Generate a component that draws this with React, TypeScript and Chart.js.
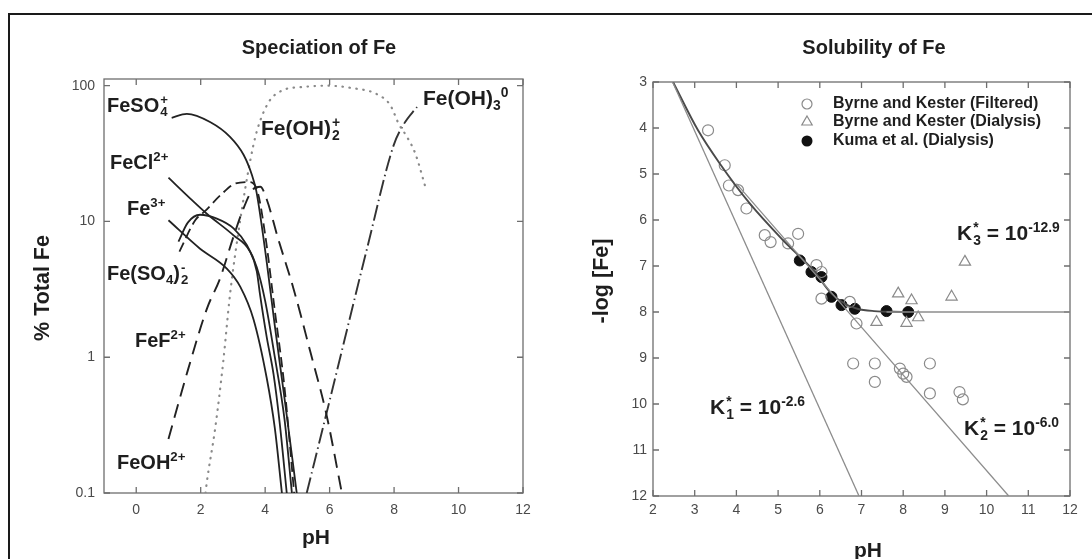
import React, { useEffect, useRef } from "react";
import { Chart, registerables } from "chart.js";
Chart.register(...registerables);

const FONT = '"Liberation Sans", Arial, Helvetica, sans-serif';

// ---------------- Left panel: Speciation of Fe  (pH, % Total Fe) ----------------
const feSO4Plus: [number, number][] = [
  [1.1, 58], [1.57, 62], [2.29, 54], [2.91, 42], [3.33, 31], [3.59, 22], [3.72, 17],
  [3.85, 11], [4.05, 5], [4.3, 1.7], [4.6, 0.5], [4.98, 0.1],
];
const feCl2Plus: [number, number][] = [
  [1.0, 21], [1.67, 14.8], [2.19, 11.4], [3.02, 7.9], [3.53, 6], [3.74, 4.3], [3.84, 2.9],
  [4.05, 1.4], [4.26, 0.75], [4.45, 0.33], [4.67, 0.1],
];
const fe3Plus: [number, number][] = [
  [1.0, 10.2], [1.98, 6.3], [2.81, 4.5], [3.23, 3.3], [3.64, 1.9], [4.05, 0.7], [4.3, 0.3], [4.52, 0.1],
];
const feF2Plus: [number, number][] = [
  [1.31, 7.1], [1.6, 9.8], [1.98, 11.2], [2.5, 10.5], [3.02, 8.9], [3.43, 6.7], [3.74, 4.6],
  [4.0, 2.6], [4.3, 1.0], [4.6, 0.35], [4.83, 0.1],
];
const feSO42Minus: [number, number][] = [
  [1.34, 6], [1.83, 10.2], [2.15, 12], [2.6, 15.5], [3.07, 19], [3.5, 19.5], [3.75, 17],
  [4.0, 8], [4.3, 2.2], [4.6, 0.6], [4.9, 0.1],
];
const feOH2Plus: [number, number][] = [
  [1.0, 0.25], [1.6, 0.8], [2.2, 2.3], [2.6, 3.8], [3.0, 7.5], [3.3, 12], [3.6, 17], [3.85, 18],
  [4.05, 14.5], [4.4, 7.5], [4.88, 3.2], [5.4, 1.1], [5.9, 0.38], [6.38, 0.1],
];
const feOH2PlusDi: [number, number][] = [
  [2.15, 0.1], [2.19, 0.12], [2.45, 0.3], [2.7, 0.93], [2.91, 2.9], [3.22, 10], [3.53, 27.5],
  [3.74, 46], [4.1, 75], [4.52, 92], [5.2, 98], [5.93, 100], [6.7, 96], [7.45, 87], [7.88, 72],
  [8.15, 52], [8.4, 42], [8.66, 31.6], [8.97, 18],
];
const feOH3Zero: [number, number][] = [
  [5.29, 0.1], [6.02, 0.5], [7.16, 6.3], [7.98, 36], [8.3, 52], [8.71, 69.7],
];
const leftXTicks = [0, 2, 4, 6, 8, 10, 12];
const leftYTicks = [0.1, 1, 10, 100];

// ---------------- Right panel: Solubility of Fe  (pH, -log [Fe]) ----------------
const byrneFiltered: [number, number][] = [
  [3.32, 4.05], [3.72, 4.81], [3.82, 5.25], [4.04, 5.35], [4.24, 5.75], [4.68, 6.33],
  [4.82, 6.48], [5.24, 6.51], [5.48, 6.3], [5.92, 6.98], [6.04, 7.13], [6.04, 7.71],
  [6.72, 7.78], [6.88, 8.25], [6.8, 9.12], [7.32, 9.12], [7.32, 9.52], [7.92, 9.23],
  [8.0, 9.34], [8.08, 9.41], [8.64, 9.12], [8.64, 9.77], [9.35, 9.74], [9.43, 9.9],
];
const byrneDialysis: [number, number][] = [
  [9.48, 6.91], [9.16, 7.67], [7.88, 7.6], [8.2, 7.75], [7.36, 8.22], [8.08, 8.24], [8.36, 8.12],
];
const kumaDialysis: [number, number][] = [
  [5.52, 6.88], [5.8, 7.13], [6.04, 7.24], [6.28, 7.67], [6.52, 7.85], [6.84, 7.93], [7.6, 7.98], [8.12, 8.0],
];
const totalCurve: [number, number][] = [
  [2.48, 3.0], [3.08, 4.05], [3.6, 4.77], [4.32, 5.64], [5.12, 6.44], [5.84, 7.09], [6.28, 7.6],
  [6.6, 7.82], [6.9, 7.93], [7.3, 7.98], [8.0, 8.0],
];
const k1Line: [number, number][] = [[2.47, 3], [6.94, 12]];
const k2Line: [number, number][] = [[4.0, 5.21], [10.53, 12]];
const k3Line: [number, number][] = [[7.6, 8], [12, 8]];
const rightXTicks = [2, 3, 4, 5, 6, 7, 8, 9, 10, 11, 12];
const rightYTicks = [3, 4, 5, 6, 7, 8, 9, 10, 11, 12];

// ---------------- helpers ----------------
const toXY = (pts: [number, number][]) => pts.map(([x, y]) => ({ x, y }));

type Part = { t: string; k?: "sub" | "sup" } | { sup: string; sub: string };

function drawRich(ctx: CanvasRenderingContext2D, x: number, y: number, parts: Part[], size: number) {
  ctx.save();
  ctx.fillStyle = "#1e1e1e";
  ctx.textBaseline = "alphabetic";
  ctx.textAlign = "left";
  const small = size * 0.66;
  let cx = x;
  for (const p of parts) {
    if ("sup" in p) {
      ctx.font = `bold ${small}px ${FONT}`;
      const w = Math.max(ctx.measureText(p.sup).width, ctx.measureText(p.sub).width);
      ctx.fillText(p.sup, cx + 1, y - size * 0.4);
      ctx.fillText(p.sub, cx + 1, y + size * 0.22);
      cx += w + 1;
    } else {
      const sz = p.k ? small : size;
      ctx.font = `bold ${sz}px ${FONT}`;
      const dy = p.k === "sub" ? size * 0.22 : p.k === "sup" ? -size * 0.4 : 0;
      ctx.fillText(p.t, cx, y + dy);
      cx += ctx.measureText(p.t).width;
    }
  }
  ctx.restore();
}

function frameTicks(xTicks: number[], yTicks: number[], len: number) {
  return {
    id: "frameTicks",
    beforeDatasetsDraw(chart: any) {
      const { ctx, chartArea: a, scales } = chart;
      ctx.save();
      ctx.strokeStyle = "#6e6e6e";
      ctx.lineWidth = 1.3;
      ctx.strokeRect(a.left, a.top, a.right - a.left, a.bottom - a.top);
      ctx.beginPath();
      for (const v of xTicks) {
        const px = scales.x.getPixelForValue(v);
        ctx.moveTo(px, a.bottom); ctx.lineTo(px, a.bottom - len);
        ctx.moveTo(px, a.top); ctx.lineTo(px, a.top + len);
      }
      for (const v of yTicks) {
        const py = scales.y.getPixelForValue(v);
        ctx.moveTo(a.left, py); ctx.lineTo(a.left + len, py);
        ctx.moveTo(a.right, py); ctx.lineTo(a.right - len, py);
      }
      ctx.stroke();
      ctx.restore();
    },
  };
}

type Txt = { x: number; y: number; parts: Part[]; size: number };
type AxisTxt = { x: number; y: number; text: string; size: number; rot?: boolean };

function textPlugin(items: Txt[], centered: AxisTxt[], extra?: (ctx: CanvasRenderingContext2D) => void) {
  return {
    id: "texts",
    afterDraw(chart: any) {
      const ctx: CanvasRenderingContext2D = chart.ctx;
      for (const it of items) drawRich(ctx, it.x, it.y, it.parts, it.size);
      for (const c of centered) {
        ctx.save();
        ctx.fillStyle = "#1e1e1e";
        ctx.font = `bold ${c.size}px ${FONT}`;
        ctx.textAlign = "center";
        ctx.textBaseline = "middle";
        ctx.translate(c.x, c.y);
        if (c.rot) ctx.rotate(-Math.PI / 2);
        ctx.fillText(c.text, 0, 0);
        ctx.restore();
      }
      if (extra) extra(ctx);
    },
  };
}

const tickFont = { family: FONT, size: 14 };
const tickColor = "#4a4a4a";

function leftConfig(): any {
  const ds = (label: string, pts: [number, number][], o: any = {}) => ({
    label, data: toXY(pts), borderColor: "#222", borderWidth: 1.8, pointRadius: 0,
    cubicInterpolationMode: "monotone", fill: false, ...o,
  });
  return {
    type: "line",
    data: {
      datasets: [
        ds("FeSO4+", feSO4Plus),
        ds("FeCl2+", feCl2Plus),
        ds("Fe3+", fe3Plus),
        ds("FeF2+", feF2Plus),
        ds("Fe(SO4)2-", feSO42Minus, { borderDash: [10, 5] }),
        ds("FeOH2+", feOH2Plus, { borderDash: [14, 8], borderWidth: 1.9 }),
        ds("Fe(OH)2+", feOH2PlusDi, { borderColor: "#8a8a8a", borderWidth: 2.2, borderDash: [0.5, 6.5], borderCapStyle: "round" }),
        ds("Fe(OH)3 0", feOH3Zero, { borderColor: "#333", borderWidth: 1.9, borderDash: [16, 4, 1.5, 4] }),
      ],
    },
    options: {
      responsive: false, animation: false, devicePixelRatio: 1,
      layout: { padding: { top: 79, right: 1092 - 523, bottom: 0, left: 0 } },
      plugins: { legend: { display: false }, tooltip: { enabled: false }, title: { display: false } },
      scales: {
        x: {
          type: "linear", min: -1, max: 12,
          afterFit: (s: any) => { s.height = 559 - 493; },
          afterBuildTicks: (s: any) => { s.ticks = leftXTicks.map((v) => ({ value: v })); },
          grid: { display: false, drawTicks: false }, border: { display: false },
          ticks: { font: tickFont, color: tickColor, padding: 9, maxRotation: 0, callback: (v: any) => String(v) },
        },
        y: {
          type: "logarithmic", min: 0.1, max: 112,
          afterFit: (s: any) => { s.width = 104; },
          afterBuildTicks: (s: any) => { s.ticks = leftYTicks.map((v) => ({ value: v })); },
          grid: { display: false, drawTicks: false }, border: { display: false },
          ticks: { font: tickFont, color: tickColor, padding: 9, callback: (v: any) => String(v) },
        },
      },
    },
    plugins: [
      frameTicks(leftXTicks, leftYTicks, 6),
      textPlugin(
        [
          { x: 107, y: 112, size: 20, parts: [{ t: "FeSO" }, { sup: "+", sub: "4" }] },
          { x: 261, y: 135, size: 21, parts: [{ t: "Fe(OH)" }, { sup: "+", sub: "2" }] },
          { x: 423, y: 105, size: 21, parts: [{ t: "Fe(OH)" }, { t: "3", k: "sub" }, { t: "0", k: "sup" }] },
          { x: 110, y: 169, size: 20, parts: [{ t: "FeCl" }, { t: "2+", k: "sup" }] },
          { x: 127, y: 215, size: 20, parts: [{ t: "Fe" }, { t: "3+", k: "sup" }] },
          { x: 107, y: 280, size: 20, parts: [{ t: "Fe(SO" }, { t: "4", k: "sub" }, { t: ")" }, { sup: "-", sub: "2" }] },
          { x: 135, y: 347, size: 20, parts: [{ t: "FeF" }, { t: "2+", k: "sup" }] },
          { x: 117, y: 469, size: 20, parts: [{ t: "FeOH" }, { t: "2+", k: "sup" }] },
        ],
        [
          { x: 319, y: 48, text: "Speciation of Fe", size: 20 },
          { x: 316, y: 538, text: "pH", size: 21 },
          { x: 43, y: 288, text: "% Total Fe", size: 21.5, rot: true },
        ]
      ),
    ],
  };
}

function rightConfig(): any {
  const ln = (label: string, pts: [number, number][], o: any = {}) => ({
    type: "line", label, data: toXY(pts), showLine: true, borderColor: "#8c8c8c", borderWidth: 1.3,
    pointRadius: 0, cubicInterpolationMode: "monotone", fill: false, ...o,
  });
  const legendExtra = (ctx: CanvasRenderingContext2D) => {
    const sx = 807, tx = 833;
    const rows = [104, 122, 141];
    ctx.save();
    ctx.lineWidth = 1.2;
    ctx.strokeStyle = "#8a8a8a";
    ctx.beginPath(); ctx.arc(sx, rows[0], 5, 0, Math.PI * 2); ctx.stroke();
    const r = 6;
    ctx.beginPath();
    ctx.moveTo(sx, rows[1] - r);
    ctx.lineTo(sx + r * 0.866, rows[1] + r * 0.5);
    ctx.lineTo(sx - r * 0.866, rows[1] + r * 0.5);
    ctx.closePath(); ctx.stroke();
    ctx.fillStyle = "#111";
    ctx.beginPath(); ctx.arc(sx, rows[2], 5.5, 0, Math.PI * 2); ctx.fill();
    ctx.fillStyle = "#1e1e1e";
    ctx.font = `bold 16px ${FONT}`;
    ctx.textAlign = "left"; ctx.textBaseline = "middle";
    ctx.fillText("Byrne and Kester (Filtered)", tx, rows[0]);
    ctx.fillText("Byrne and Kester (Dialysis)", tx, rows[1]);
    ctx.fillText("Kuma et al. (Dialysis)", tx, rows[2]);
    ctx.restore();
  };
  return {
    type: "scatter",
    data: {
      datasets: [
        ln("K*1", k1Line),
        ln("K*2", k2Line),
        ln("K*3", k3Line),
        ln("Total", totalCurve, { borderColor: "#4a4a4a", borderWidth: 1.9 }),
        {
          label: "Byrne and Kester (Filtered)", data: toXY(byrneFiltered), pointStyle: "circle", pointRadius: 5.5,
          borderColor: "#8a8a8a", backgroundColor: "rgba(255,255,255,0)", borderWidth: 1.2,
        },
        {
          label: "Byrne and Kester (Dialysis)", data: toXY(byrneDialysis), pointStyle: "triangle", pointRadius: 6.5,
          borderColor: "#8a8a8a", backgroundColor: "rgba(255,255,255,0)", borderWidth: 1.2,
        },
        {
          label: "Kuma et al. (Dialysis)", data: toXY(kumaDialysis), pointStyle: "circle", pointRadius: 5.5,
          borderColor: "#111", backgroundColor: "#111", borderWidth: 1,
        },
      ],
    },
    options: {
      responsive: false, animation: false, devicePixelRatio: 1,
      layout: { padding: { top: 82, right: 1092 - 1070, bottom: 0, left: 0 } },
      plugins: { legend: { display: false }, tooltip: { enabled: false }, title: { display: false } },
      scales: {
        x: {
          type: "linear", min: 2, max: 12,
          afterFit: (s: any) => { s.height = 559 - 496; },
          afterBuildTicks: (s: any) => { s.ticks = rightXTicks.map((v) => ({ value: v })); },
          grid: { display: false, drawTicks: false }, border: { display: false },
          ticks: { font: tickFont, color: tickColor, padding: 6, maxRotation: 0 },
        },
        y: {
          type: "linear", min: 3, max: 12, reverse: true,
          afterFit: (s: any) => { s.width = 653; },
          afterBuildTicks: (s: any) => { s.ticks = rightYTicks.map((v) => ({ value: v })); },
          grid: { display: false, drawTicks: false }, border: { display: false },
          ticks: { font: tickFont, color: tickColor, padding: 6 },
        },
      },
    },
    plugins: [
      frameTicks(rightXTicks, rightYTicks, 6),
      textPlugin(
        [
          { x: 957, y: 240, size: 21, parts: [{ t: "K" }, { sup: "*", sub: "3" }, { t: " = 10" }, { t: "-12.9", k: "sup" }] },
          { x: 710, y: 414, size: 21, parts: [{ t: "K" }, { sup: "*", sub: "1" }, { t: " = 10" }, { t: "-2.6", k: "sup" }] },
          { x: 964, y: 435, size: 21, parts: [{ t: "K" }, { sup: "*", sub: "2" }, { t: " = 10" }, { t: "-6.0", k: "sup" }] },
        ],
        [
          { x: 874, y: 48, text: "Solubility of Fe", size: 20 },
          { x: 868, y: 551, text: "pH", size: 21 },
          { x: 602, y: 281, text: "-log [Fe]", size: 21.5, rot: true },
        ],
        legendExtra
      ),
    ],
  };
}

export default function App() {
  const leftRef = useRef<HTMLCanvasElement>(null);
  const rightRef = useRef<HTMLCanvasElement>(null);
  useEffect(() => {
    const c1 = new Chart(leftRef.current as HTMLCanvasElement, leftConfig());
    const c2 = new Chart(rightRef.current as HTMLCanvasElement, rightConfig());
    return () => { c1.destroy(); c2.destroy(); };
  }, []);
  return (
    <div style={{ position: "fixed", left: 0, top: 0, width: 1092, height: 559, overflow: "hidden", background: "#fff" }}>
      <div style={{ position: "absolute", left: 8, top: 13, width: 1200, height: 700, border: "2px solid #1a1a1a" }} />
      <canvas ref={leftRef} width={1092} height={559} style={{ position: "absolute", left: 0, top: 0 }} />
      <canvas ref={rightRef} width={1092} height={559} style={{ position: "absolute", left: 0, top: 0 }} />
    </div>
  );
}
